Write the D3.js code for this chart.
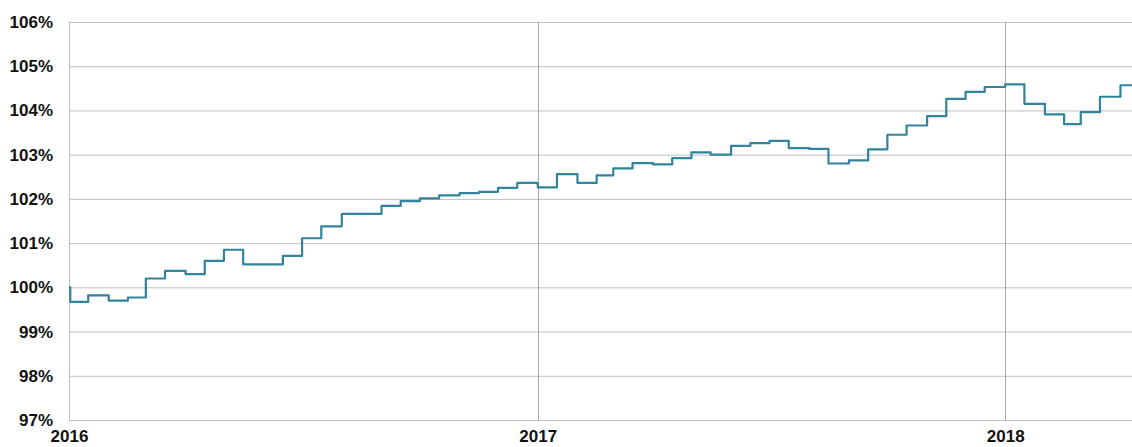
<!DOCTYPE html>
<html>
<head>
<meta charset="utf-8">
<script src="https://cdnjs.cloudflare.com/ajax/libs/d3/7.8.5/d3.min.js"></script>
<style>
  html, body { margin: 0; padding: 0; background: #fff; }
  svg { display: block; }
  .tick text { font-family: "Liberation Sans", Arial, sans-serif; font-weight: bold; fill: #111; }
</style>
</head>
<body>
<div id="chart"></div>
<script>
// index level (semi-monthly points, step line)
var dates = [
  "2016-01-01", "2016-01-02", "2016-01-16", "2016-02-01", "2016-02-16", "2016-03-01", "2016-03-16",
  "2016-04-01", "2016-04-16", "2016-05-01", "2016-05-16", "2016-06-01", "2016-06-16",
  "2016-07-01", "2016-07-16", "2016-08-01", "2016-08-16", "2016-09-01", "2016-09-16",
  "2016-10-01", "2016-10-16", "2016-11-01", "2016-11-16", "2016-12-01", "2016-12-16",
  "2017-01-01", "2017-01-16", "2017-02-01", "2017-02-16", "2017-03-01", "2017-03-16",
  "2017-04-01", "2017-04-16", "2017-05-01", "2017-05-16", "2017-06-01", "2017-06-16",
  "2017-07-01", "2017-07-16", "2017-08-01", "2017-08-16", "2017-09-01", "2017-09-16",
  "2017-10-01", "2017-10-16", "2017-11-01", "2017-11-16", "2017-12-01", "2017-12-16",
  "2018-01-01", "2018-01-16", "2018-02-01", "2018-02-16", "2018-03-01", "2018-03-16",
  "2018-04-01", "2018-04-10"
];
var values = [
  100.00, 99.67, 99.82, 99.70, 99.77, 100.20, 100.37,
  100.30, 100.60, 100.85, 100.52, 100.52, 100.71,
  101.11, 101.38, 101.66, 101.66, 101.84, 101.95,
  102.01, 102.08, 102.13, 102.16, 102.25, 102.36,
  102.26, 102.56, 102.36, 102.53, 102.69, 102.81,
  102.78, 102.92, 103.05, 103.00, 103.20, 103.26,
  103.31, 103.15, 103.13, 102.80, 102.87, 103.12,
  103.45, 103.66, 103.87, 104.26, 104.42, 104.53,
  104.59, 104.15, 103.91, 103.69, 103.96, 104.31,
  104.57, 104.57
];
var yTicks = [97, 98, 99, 100, 101, 102, 103, 104, 105, 106];
var xTicks = ["2016-01-01", "2017-01-01", "2018-01-01"];

drawChart();

function drawChart(){

    var width = 1132, height = 447;
    var margin = {top: 22, right: 0, bottom: 27, left: 69};

    var parse = d3.timeParse("%Y-%m-%d");

    var data = dates.map(function(d, i){ return {date: parse(d), value: values[i]}; });

    var svg = d3.select("#chart")
        .append("svg")
        .attr("width", width)
        .attr("height", height);

    var x = d3.scaleTime()
        .domain([parse("2016-01-01"), parse("2018-04-10")])
        .range([margin.left, width - margin.right]);

    var y = d3.scaleLinear()
        .domain([97, 106])
        .range([height - margin.bottom, margin.top]);

    // horizontal grid
    svg.append("g")
        .selectAll("line").data(yTicks).enter().append("line")
        .attr("x1", margin.left).attr("x2", width)
        .attr("y1", function(d){ return y(d) + 0.5; })
        .attr("y2", function(d){ return y(d) + 0.5; })
        .attr("stroke", "#bdbdbd")
        .attr("stroke-width", 1);

    // year lines
    svg.append("g")
        .selectAll("line").data(xTicks.slice(1)).enter().append("line")
        .attr("x1", function(d){ return Math.round(x(parse(d))) + 0.5; })
        .attr("x2", function(d){ return Math.round(x(parse(d))) + 0.5; })
        .attr("y1", margin.top).attr("y2", height - margin.bottom)
        .attr("stroke", "#a8a8a8")
        .attr("stroke-width", 1);

    // left axis line
    svg.append("line")
        .attr("x1", margin.left + 0.5).attr("x2", margin.left + 0.5)
        .attr("y1", margin.top).attr("y2", height - margin.bottom)
        .attr("stroke", "#bdbdbd");

    var yAxis = d3.axisLeft(y)
        .tickValues(yTicks)
        .tickSize(0)
        .tickPadding(16)
        .tickFormat(function(d){ return d + "%"; });

    svg.append("g")
        .attr("transform", "translate(" + margin.left + ",0)")
        .call(yAxis)
        .call(function(g){ g.select(".domain").remove(); })
        .selectAll("text").style("font-size", "17px");

    var xAxis = d3.axisBottom(x)
        .tickValues(xTicks.map(parse))
        .tickSize(0)
        .tickPadding(10)
        .tickFormat(d3.timeFormat("%Y"));

    svg.append("g")
        .attr("transform", "translate(0," + (height - margin.bottom) + ")")
        .call(xAxis)
        .call(function(g){ g.select(".domain").remove(); })
        .selectAll("text").style("font-size", "17px");

    var line = d3.line()
        .curve(d3.curveStepAfter)
        .x(function(d){ return x(d.date); })
        .y(function(d){ return y(d.value); });

    svg.append("path")
        .datum(data)
        .attr("d", line)
        .attr("fill", "none")
        .attr("stroke", "#31849b")
        .attr("stroke-width", 2.2)
        .attr("stroke-linejoin", "round");
}
</script>
</body>
</html>
